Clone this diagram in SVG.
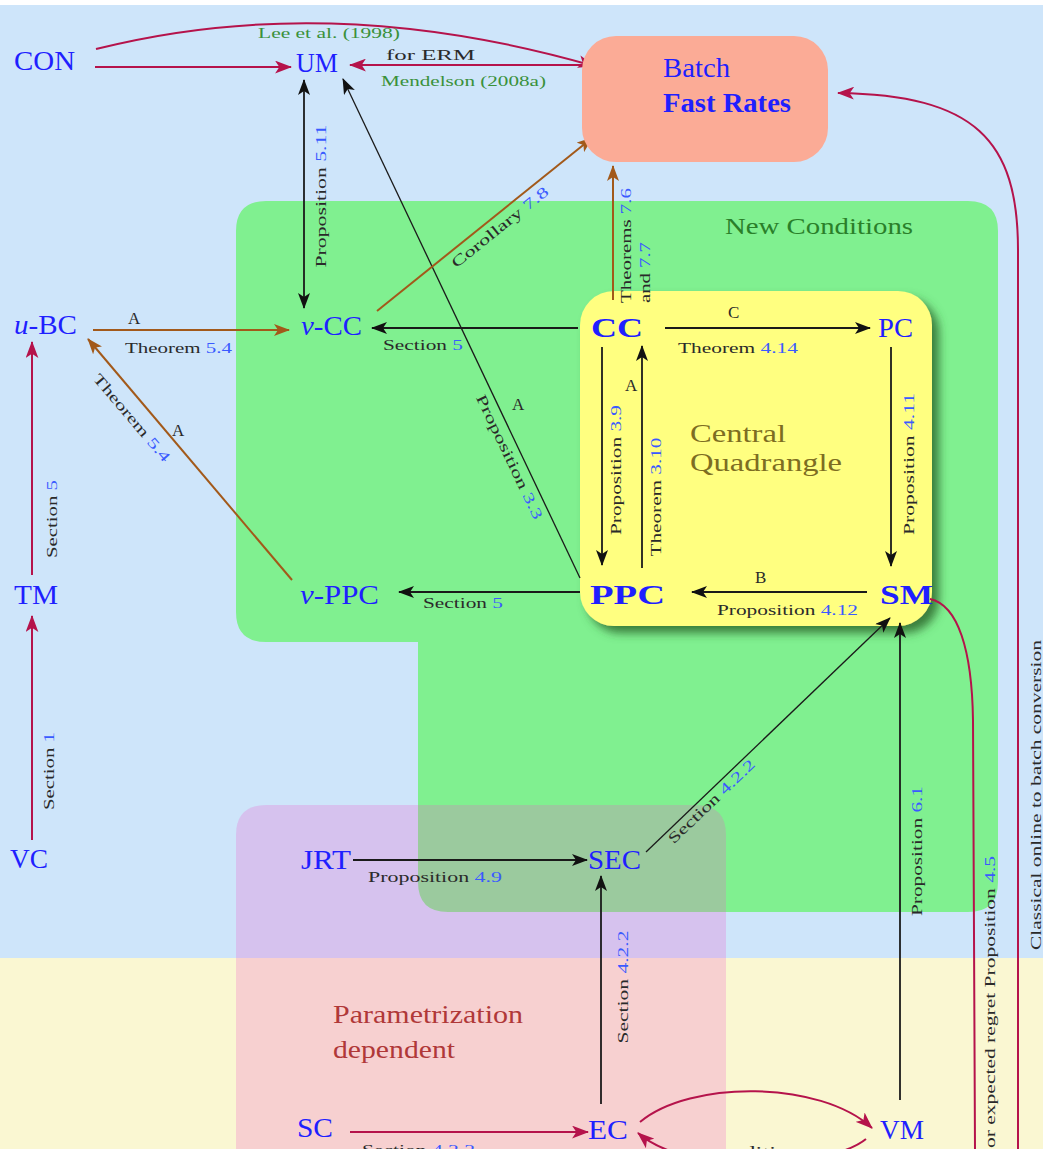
<svg xmlns="http://www.w3.org/2000/svg" width="1043" height="1149" viewBox="0 0 1043 1149">
<style>
.n{font-family:"Liberation Serif","Times New Roman",serif;fill:#1f1fff;font-size:27px}
.b{font-weight:bold}
.l{font-family:"Liberation Serif","Times New Roman",serif;fill:#2a2a2a;font-size:15px}
.r{fill:#3a5aff}
.big{font-size:17px}
.cite{font-family:"Liberation Serif",serif;fill:#3a913a;font-size:14px}
.k{stroke:#1a1a1a;stroke-width:1.8;fill:none}
.kt{stroke:#1a1a1a;stroke-width:1.3;fill:none}
.rd{stroke:#b5134b;stroke-width:2;fill:none}
.br{stroke:#a2591a;stroke-width:2;fill:none}
</style>
<defs>
<marker id="ak" viewBox="0 0 16 12" refX="15" refY="6" markerWidth="16" markerHeight="12" markerUnits="userSpaceOnUse" orient="auto-start-reverse"><path d="M0,0 L16,6 L0,12 L4,6 Z" fill="#111"/></marker>
<marker id="ar" viewBox="0 0 16 12" refX="15" refY="6" markerWidth="17" markerHeight="13" markerUnits="userSpaceOnUse" orient="auto"><path d="M0,0 L16,6 L0,12 L4,6 Z" fill="#b5134b"/></marker>
<marker id="ab" viewBox="0 0 16 12" refX="15" refY="6" markerWidth="16" markerHeight="12" markerUnits="userSpaceOnUse" orient="auto"><path d="M0,0 L16,6 L0,12 L4,6 Z" fill="#a2591a"/></marker>
<filter id="sh" x="-10%" y="-10%" width="130%" height="130%">
<feGaussianBlur in="SourceAlpha" stdDeviation="5"/>
<feOffset dx="7" dy="7" result="o"/>
<feFlood flood-color="#2e6a2e" flood-opacity="0.85"/>
<feComposite in2="o" operator="in"/>
<feMerge><feMergeNode/><feMergeNode in="SourceGraphic"/></feMerge>
</filter>
</defs>

<!-- backgrounds -->
<rect x="0" y="0" width="1043" height="1149" fill="#ffffff"/>
<rect x="0" y="5" width="1043" height="953" fill="#cee5fa"/>
<rect x="0" y="958" width="1043" height="191" fill="#faf7d2"/>
<g id="new-conditions">
<path d="M266,201 H968 Q998,201 998,231 V882 Q998,912 968,912 H448 Q418,912 418,882 V642 H266 Q236,642 236,612 V231 Q236,201 266,201 Z" fill="#80f090"/>
<text x="725" y="234" font-family="Liberation Serif,serif" font-size="24" fill="#2a7f2a" textLength="188" lengthAdjust="spacingAndGlyphs">New Conditions</text>
</g>
<g id="param-dependent">
<path d="M266,805 H696 Q726,805 726,835 V1160 H236 V835 Q236,805 266,805 Z" fill="#ee58ca" fill-opacity="0.245"/>
<text x="333" y="1023" font-family="Liberation Serif,serif" font-size="26" fill="#b03838" textLength="190" lengthAdjust="spacingAndGlyphs">Parametrization</text>
<text x="333" y="1058" font-family="Liberation Serif,serif" font-size="26" fill="#b03838" textLength="122" lengthAdjust="spacingAndGlyphs">dependent</text>
</g>
<g id="central-quadrangle">
<rect x="580" y="291" width="352" height="335" rx="34" fill="#ffff80" filter="url(#sh)"/>
<text x="690" y="442" font-family="Liberation Serif,serif" font-size="26" fill="#7d6d22" textLength="96" lengthAdjust="spacingAndGlyphs">Central</text>
<text x="690" y="471" font-family="Liberation Serif,serif" font-size="26" fill="#7d6d22" textLength="152" lengthAdjust="spacingAndGlyphs">Quadrangle</text>
</g>

<!-- connectors -->
<g id="connectors">
<path class="rd" d="M95,67 L291,67" marker-end="url(#ar)"/>
<path class="rd" d="M96,49 Q330,-10 594,66" marker-end="url(#ar)"/>
<path class="rd" d="M594,65 L350,65" marker-end="url(#ar)"/>
<path class="k" d="M304,80 L304,308" marker-start="url(#ak)" marker-end="url(#ak)"/>
<path class="kt" d="M580,578 L343,79" marker-end="url(#ak)"/>
<path class="br" d="M377,311 L592,138" marker-end="url(#ab)"/>
<path class="br" d="M613,300 L613,166" marker-end="url(#ab)"/>
<path class="k" d="M578,328 L372,328" marker-end="url(#ak)"/>
<path class="br" d="M93,330 L289,330" marker-end="url(#ab)"/>
<path class="br" d="M292,580 L88,339" marker-end="url(#ab)"/>
<path class="rd" d="M32,575 L32,342" marker-end="url(#ar)"/>
<path class="rd" d="M32,840 L32,616" marker-end="url(#ar)"/>
<path class="k" d="M665,328 L870,328" marker-end="url(#ak)"/>
<path class="k" d="M891,347 L891,566" marker-end="url(#ak)"/>
<path class="k" d="M602,347 L602,565" marker-end="url(#ak)"/>
<path class="k" d="M642,568 L642,346" marker-end="url(#ak)"/>
<path class="k" d="M867,592 L692,592" marker-end="url(#ak)"/>
<path class="k" d="M580,592 L399,592" marker-end="url(#ak)"/>
<path class="k" d="M353,860 L587,860" marker-end="url(#ak)"/>
<path class="kt" d="M646,852 L890,618" marker-end="url(#ak)"/>
<path class="k" d="M601,1104 L601,876" marker-end="url(#ak)"/>
<path class="k" d="M900,1100 L900,623" marker-end="url(#ak)"/>
<path class="rd" d="M350,1132 L588,1132" marker-end="url(#ar)"/>
<path class="rd" d="M640,1122 C690,1080 820,1080 872,1128" marker-end="url(#ar)"/>
<path class="rd" d="M866,1139 C830,1168 690,1178 638,1133" marker-end="url(#ar)"/>
<path class="rd" d="M930,599 C958,605 972,650 973,720 L975,1149" stroke-width="1.8"/>
<path class="rd" d="M1018,1149 L1018,250 C1018,140 975,95 838,93" stroke-width="1.8" marker-end="url(#ar)"/>

<!-- labels -->
<text class="l" x="386" y="60" font-size="21" textLength="89" lengthAdjust="spacingAndGlyphs">for ERM</text>
<text class="cite" x="258" y="38" textLength="142" lengthAdjust="spacingAndGlyphs">Lee et al. (1998)</text>
<text class="cite" x="381" y="86" textLength="165" lengthAdjust="spacingAndGlyphs">Mendelson (2008a)</text>
<text class="l" text-anchor="middle" textLength="143" lengthAdjust="spacingAndGlyphs" transform="translate(326,196) rotate(-90)">Proposition <tspan class="r">5.11</tspan></text>
<text class="l" textLength="115" lengthAdjust="spacingAndGlyphs" transform="translate(631,303) rotate(-90)">Theorems <tspan class="r">7.6</tspan></text>
<text class="l" textLength="61" lengthAdjust="spacingAndGlyphs" transform="translate(650,303) rotate(-90)">and <tspan class="r">7.7</tspan></text>
<text class="l" text-anchor="middle" textLength="120" lengthAdjust="spacingAndGlyphs" transform="translate(503,231) rotate(-38.8)">Corollary <tspan class="r">7.8</tspan></text>
<text class="l" text-anchor="middle" textLength="136" lengthAdjust="spacingAndGlyphs" transform="translate(505,459) rotate(64.6)">Proposition <tspan class="r">3.3</tspan></text>
<text class="l big" x="512" y="410">A</text>
<text class="l big" x="128" y="324">A</text>
<text class="l" x="125" y="353" textLength="107" lengthAdjust="spacingAndGlyphs">Theorem <tspan class="r">5.4</tspan></text>
<text class="l" text-anchor="middle" textLength="110" lengthAdjust="spacingAndGlyphs" transform="translate(128,421) rotate(49.6)">Theorem <tspan class="r">5.4</tspan></text>
<text class="l big" x="172" y="436">A</text>
<text class="l" x="383" y="350" textLength="80" lengthAdjust="spacingAndGlyphs">Section <tspan class="r">5</tspan></text>
<text class="l big" x="728" y="318">C</text>
<text class="l" x="678" y="353" textLength="120" lengthAdjust="spacingAndGlyphs">Theorem <tspan class="r">4.14</tspan></text>
<text class="l big" x="625" y="391">A</text>
<text class="l" text-anchor="middle" textLength="130" lengthAdjust="spacingAndGlyphs" transform="translate(621,470) rotate(-90)">Proposition <tspan class="r">3.9</tspan></text>
<text class="l" text-anchor="middle" textLength="119" lengthAdjust="spacingAndGlyphs" transform="translate(661,497) rotate(-90)">Theorem <tspan class="r">3.10</tspan></text>
<text class="l" text-anchor="middle" textLength="142" lengthAdjust="spacingAndGlyphs" transform="translate(914,464) rotate(-90)">Proposition <tspan class="r">4.11</tspan></text>
<text class="l big" x="755" y="583">B</text>
<text class="l" x="717" y="615" textLength="141" lengthAdjust="spacingAndGlyphs">Proposition <tspan class="r">4.12</tspan></text>
<text class="l" x="423" y="608" textLength="80" lengthAdjust="spacingAndGlyphs">Section <tspan class="r">5</tspan></text>
<text class="l" text-anchor="middle" textLength="78" lengthAdjust="spacingAndGlyphs" transform="translate(57,519) rotate(-90)">Section <tspan class="r">5</tspan></text>
<text class="l" text-anchor="middle" textLength="78" lengthAdjust="spacingAndGlyphs" transform="translate(54,771) rotate(-90)">Section <tspan class="r">1</tspan></text>
<text class="l" x="368" y="882" textLength="134" lengthAdjust="spacingAndGlyphs">Proposition <tspan class="r">4.9</tspan></text>
<text class="l" text-anchor="middle" textLength="114" lengthAdjust="spacingAndGlyphs" transform="translate(715,805) rotate(-43.8)">Section <tspan class="r">4.2.2</tspan></text>
<text class="l" text-anchor="middle" textLength="113" lengthAdjust="spacingAndGlyphs" transform="translate(628,987) rotate(-90)">Section <tspan class="r">4.2.2</tspan></text>
<text class="l" text-anchor="middle" textLength="130" lengthAdjust="spacingAndGlyphs" transform="translate(922,851) rotate(-90)">Proposition <tspan class="r">6.1</tspan></text>
<text class="l" x="362" y="1155" textLength="113" lengthAdjust="spacingAndGlyphs">Section <tspan class="r">4.2.2</tspan></text>
<text class="l big" x="708" y="1158" textLength="102" lengthAdjust="spacingAndGlyphs">conditions</text>
<text class="l" font-size="16" textLength="310" lengthAdjust="spacingAndGlyphs" transform="translate(1041,950) rotate(-90)">Classical online to batch conversion</text>
<text class="l" font-size="16" text-anchor="end" textLength="292" lengthAdjust="spacingAndGlyphs" transform="translate(995,856) rotate(-90)">or expected regret Proposition <tspan class="r">4.5</tspan></text>
</g>

<!-- nodes -->
<g id="CON"><text class="n" x="14" y="70" textLength="61" lengthAdjust="spacingAndGlyphs">CON</text></g>
<g id="UM"><text class="n" x="296" y="72" textLength="42" lengthAdjust="spacingAndGlyphs">UM</text></g>
<g id="Batch"><rect x="582" y="36" width="246" height="126" rx="34" fill="#fbab96"/>
<text class="n" x="663" y="77" font-size="25" textLength="67" lengthAdjust="spacingAndGlyphs">Batch</text>
<text class="n b" x="663" y="112" font-size="24" textLength="128" lengthAdjust="spacingAndGlyphs">Fast Rates</text></g>
<g id="u-BC"><text class="n" x="14" y="334" textLength="63" lengthAdjust="spacingAndGlyphs"><tspan font-style="italic">u</tspan>-BC</text></g>
<g id="v-CC"><text class="n" x="301" y="335" textLength="61" lengthAdjust="spacingAndGlyphs"><tspan font-style="italic">v</tspan>-CC</text></g>
<g id="CC"><text class="n b" x="591" y="337" font-size="34" textLength="52" lengthAdjust="spacingAndGlyphs">CC</text></g>
<g id="PC"><text class="n" x="878" y="337" font-size="28" textLength="35" lengthAdjust="spacingAndGlyphs">PC</text></g>
<g id="PPC"><text class="n b" x="590" y="604" font-size="34" textLength="75" lengthAdjust="spacingAndGlyphs">PPC</text></g>
<g id="SM"><text class="n b" x="880" y="604" font-size="32" textLength="53" lengthAdjust="spacingAndGlyphs">SM</text></g>
<g id="v-PPC"><text class="n" x="300" y="604" textLength="79" lengthAdjust="spacingAndGlyphs"><tspan font-style="italic">v</tspan>-PPC</text></g>
<g id="TM"><text class="n" x="14" y="604" textLength="44" lengthAdjust="spacingAndGlyphs">TM</text></g>
<g id="VC"><text class="n" x="10" y="868" textLength="38" lengthAdjust="spacingAndGlyphs">VC</text></g>
<g id="JRT"><text class="n" x="301" y="869" textLength="50" lengthAdjust="spacingAndGlyphs">JRT</text></g>
<g id="SEC"><text class="n" x="588" y="869" textLength="53" lengthAdjust="spacingAndGlyphs">SEC</text></g>
<g id="SC"><text class="n" x="297" y="1137" textLength="36" lengthAdjust="spacingAndGlyphs">SC</text></g>
<g id="EC"><text class="n" x="588" y="1139" textLength="40" lengthAdjust="spacingAndGlyphs">EC</text></g>
<g id="VM"><text class="n" x="880" y="1139" textLength="44" lengthAdjust="spacingAndGlyphs">VM</text></g>
</svg>
